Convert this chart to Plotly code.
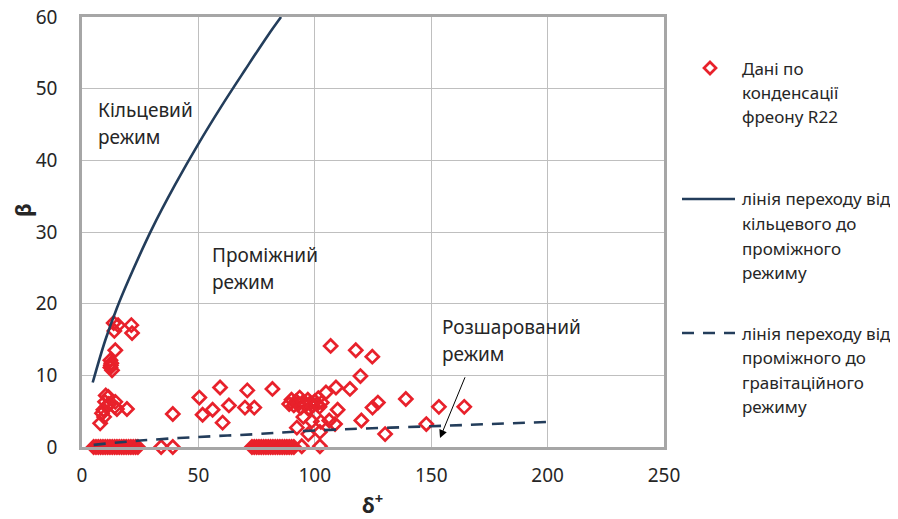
import plotly.graph_objects as go

# ---------------- data ----------------
delta_data = [
    13.6, 15.5, 13.9, 21.2, 21.5, 14.3, 12.2, 12.6, 12.2, 12.9, 12.4,
    7.8, 8.6, 9.2, 9.9, 10.2, 11.3, 10.7, 14.3, 15.0, 19.3, 11.5, 9.5, 14.0,
    5, 6, 7, 8, 9, 10, 11, 12, 13, 14, 15, 16, 17, 18, 19, 20, 21, 22, 23, 24, 34, 39,
    39.0, 50.4, 59.3, 51.8, 56.1, 63.1, 60.4, 71.0, 70.0, 74.0, 81.8,
    73, 74, 75, 76, 77, 78, 79, 80, 81, 82, 83, 84, 85, 86, 87, 88, 89, 90, 91, 94.4, 102.2,
    89, 90, 91, 92, 93, 93.5, 94, 95, 96, 97, 97.5, 98, 99, 100, 101, 102, 103, 101.5,
    104.8, 109.1, 115.1, 119.6, 106.8, 117.6, 124.7, 95.1, 92.3, 97.2, 98.7, 102.6,
    106.2, 108.7, 102.2, 109.8, 120.0, 124.8, 127.1, 130.2, 139.1, 147.9, 153.3, 164.2,
]
beta_data = [
    17.3, 17.0, 16.2, 17.0, 15.9, 13.5, 12.1, 11.7, 11.1, 10.7, 11.4,
    3.3, 4.7, 5.2, 6.3, 7.2, 7.0, 5.6, 6.3, 5.3, 5.3, 6.0, 4.2, 5.6,
    0, 0, 0, 0, 0, 0, 0, 0, 0, 0, 0, 0, 0, 0, 0, 0, 0, 0, 0, 0, 0, 0,
    4.6, 6.9, 8.3, 4.5, 5.2, 5.8, 3.4, 7.9, 5.5, 5.5, 8.1,
    0, 0, 0, 0, 0, 0, 0, 0, 0, 0, 0, 0, 0, 0, 0, 0, 0, 0, 0, 0.1, 0.1,
    6.0, 6.6, 5.8, 6.4, 6.0, 6.9, 5.5, 6.3, 5.9, 6.6, 5.4, 6.1, 5.7, 6.4, 6.0, 5.6, 6.2, 6.8,
    7.6, 8.3, 8.1, 9.9, 14.1, 13.5, 12.6, 4.2, 2.7, 1.8, 3.6, 3.5,
    3.7, 3.2, 2.1, 5.2, 3.7, 5.5, 6.2, 1.8, 6.7, 3.2, 5.6, 5.6,
]

# transition line: annular -> intermediate
delta_annular = [4.6, 10, 15, 20, 30, 40, 50, 60, 70, 80, 85.5]
beta_annular = [9.0, 14.9, 19.4, 23.3, 30.4, 36.6, 42.3, 47.6, 52.6, 57.5, 60.0]

# transition line: intermediate -> gravitational
delta_strat = [5, 25, 50, 75, 100, 150, 200]
beta_strat = [0.3, 0.9, 1.4, 1.8, 2.3, 2.9, 3.5]

x_ticks = [0, 50, 100, 150, 200, 250]
y_ticks = [0, 10, 20, 30, 40, 50, 60]

legend_lines = [
    ["Дані по", "конденсації", "фреону R22"],
    ["лінія переходу від", "кільцевого до", "проміжного", "режиму"],
    ["лінія переходу від", "проміжного до", "гравітаційного", "режиму"],
]

# ---------------- styling ----------------
RED = "#E8212B"
NAVY = "#233D5B"
TXT = "#262626"
FONT = "Noto Sans"

OFF = 8                      # page body margin
W, H = 898 - OFF, 519 - OFF  # figure size so that it fills the window
L, R, T, B = 82, 664, 17, 447  # plot area in page pixels


def px_x(p):
    return (p - L) / (R - L)


def px_y(p):
    return (B - p) / (B - T)


fig = go.Figure()

fig.add_trace(go.Scatter(
    x=delta_data, y=beta_data, mode="markers",
    marker=dict(symbol="diamond-open", size=10, color=RED, line=dict(width=2.7, color=RED)),
    showlegend=False, cliponaxis=False,
))
fig.add_trace(go.Scatter(
    x=delta_annular, y=beta_annular, mode="lines",
    line=dict(color=NAVY, width=2.6, shape="spline"), showlegend=False,
))
fig.add_trace(go.Scatter(
    x=delta_strat, y=beta_strat, mode="lines",
    line=dict(color=NAVY, width=2.6, dash="12px,9px", shape="spline"), showlegend=False,
))

ann = []
# region labels
for txt, xp, yp in [("Кільцевий", 96, 110), ("режим", 96, 137),
                    ("Проміжний", 210, 255), ("режим", 210, 282),
                    ("Розшарований", 440, 327), ("режим", 440, 354)]:
    ann.append(dict(text=txt, xref="paper", yref="paper", x=px_x(xp), y=px_y(yp),
                    xanchor="left", yanchor="middle", showarrow=False,
                    font=dict(size=19, color=TXT, family=FONT)))
# arrow to stratified region
ann.append(dict(text=" ", x=(440 - L) / 2.328, y=(B - 438) / 7.167, xref="x", yref="y",
                ax=(468 - L) / 2.328, ay=(B - 370) / 7.167, axref="x", ayref="y",
                showarrow=True, arrowhead=2, arrowsize=1.6, arrowwidth=1, arrowcolor="#000000"))

# axis titles
ann.append(dict(text="<b>δ<sup>+</sup></b>", xref="paper", yref="paper", x=px_x(372), y=px_y(503),
                xanchor="center", yanchor="middle", showarrow=False,
                font=dict(size=21, color=TXT, family=FONT)))
ann.append(dict(text="<b>β</b>", xref="paper", yref="paper", x=px_x(22), y=px_y(210),
                xanchor="center", yanchor="middle", showarrow=False, textangle=-90,
                font=dict(size=22, color=TXT, family=FONT)))

# manual legend
legend_tops = [68, 199, 333]
for lines, top in zip(legend_lines, legend_tops):
    for i, s in enumerate(lines):
        ann.append(dict(text=s, xref="paper", yref="paper", x=px_x(740), y=px_y(top + i * 24.5),
                        xanchor="left", yanchor="middle", showarrow=False,
                        font=dict(size=17, color=TXT, family=FONT)))

shapes = [
    dict(type="path", xref="paper", yref="paper", xsizemode="pixel", ysizemode="pixel",
         xanchor=px_x(710), yanchor=px_y(68),
         path="M 0 6 L 6 0 L 0 -6 L -6 0 Z", line=dict(color=RED, width=2.7)),
    dict(type="line", xref="paper", yref="paper", x0=px_x(682), x1=px_x(735),
         y0=px_y(199), y1=px_y(199), line=dict(color=NAVY, width=2.6)),
    dict(type="line", xref="paper", yref="paper", x0=px_x(682), x1=px_x(735),
         y0=px_y(333), y1=px_y(333), line=dict(color=NAVY, width=2.6, dash="12px,9px")),
]

axis_common = dict(
    showgrid=True, gridcolor="#BFBFBF", gridwidth=1,
    showline=True, linecolor="#A6A6A6", linewidth=2.5, mirror=True,
    zeroline=False, ticks="", automargin=False, ticklabeloverflow="allow",
    tickfont=dict(size=19, color=TXT, family=FONT),
)

fig.update_layout(
    width=W, height=H,
    margin=dict(l=L - OFF, r=W - (R - OFF), t=T - OFF, b=H - (B - OFF), autoexpand=False),
    plot_bgcolor="white", paper_bgcolor="white",
    font=dict(family=FONT, color=TXT),
    xaxis=dict(range=[0, 250], tickvals=x_ticks, ticklabelstandoff=9, **axis_common),
    yaxis=dict(range=[0, 60], tickvals=y_ticks, ticklabelstandoff=18, **axis_common),
    annotations=ann, shapes=shapes, showlegend=False,
)

fig.write_html("out.html")
